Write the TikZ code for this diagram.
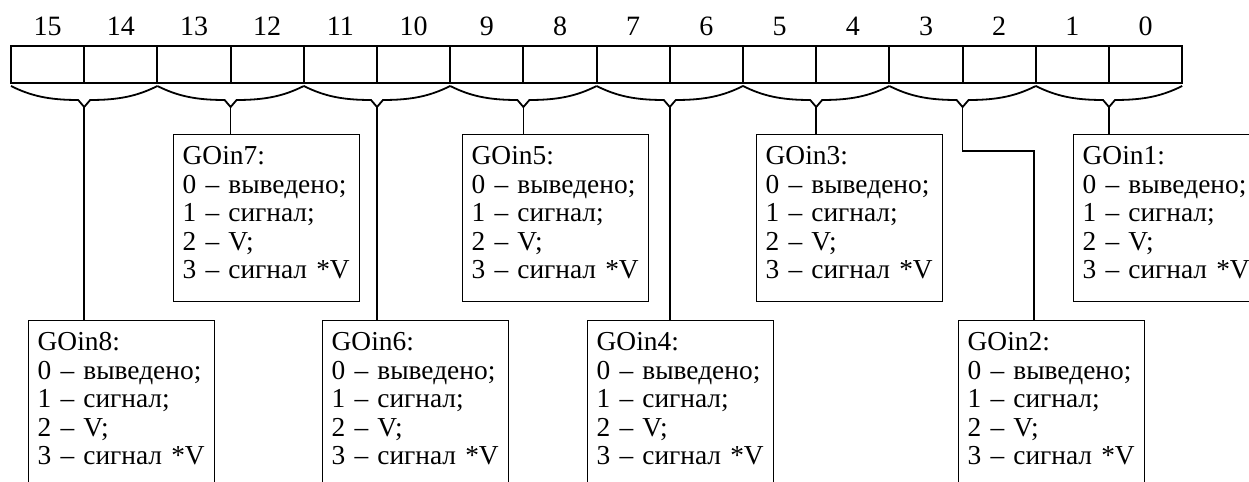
\documentclass[tikz,border=0pt]{standalone}
\usepackage{fontspec}
\setmainfont{Liberation Serif}
\usepackage{tikz}
\usetikzlibrary{calc}

\newcommand{\goin}[1]{\rule{0pt}{10pt}\mbox{GOin#1:}\\\mbox{0 – выведено;}\\\mbox{1 – сигнал;}\\\mbox{2 – V;}\\\mbox{3 – сигнал *V}\rule[-6.5pt]{0pt}{6.5pt}}

\begin{document}
\begin{tikzpicture}[x=0.5pt,y=-0.5pt,
  cell/.style={draw,line width=1pt,minimum width=36.6pt,minimum height=18.5pt,inner sep=0pt,outer sep=0pt},
  bitno/.style={anchor=base,inner sep=0pt,font=\fontsize{14}{17}\selectfont},
  fld/.style={draw,line width=0.7pt,anchor=north west,text width=84pt,align=left,
    inner xsep=4.5pt,inner ysep=5pt,font=\fontsize{13.7}{14.25}\selectfont},
  brace/.style={line width=0.9pt,line join=miter},
  wire/.style={line width=0.8pt}]
\useasboundingbox (0,0) rectangle (1249,482);
\clip (0,0) rectangle (1249,482);
% register cells and bit numbers
\foreach \b in {0,...,15}{
  \pgfmathsetmacro{\xc}{11+73.2*(15-\b)+36.6}
  \node[cell] (b\b) at (\xc,64.5) {};
  \node[bitno] (n\b) at (\xc,35) {\b};
}
% braces under each pair of bits
\foreach \p in {0,...,7}{
  \pgfmathsetmacro{\xl}{11+146.4*\p}
  \pgfmathsetmacro{\xm}{\xl+73.2}
  \pgfmathsetmacro{\xr}{\xl+146.4}
  \pgfmathtruncatemacro{\f}{8-\p}
  \draw[brace] (\xl,86) .. controls (\xl+20,96) and (\xm-35,100) .. (\xm-6,100)
    -- (\xm,107) -- (\xm+6,100) .. controls (\xm+35,100) and (\xr-20,96) .. (\xr,86);
  \coordinate (t\f) at (\xm,107);
}
% field boxes
\node[fld] (g7) at (173,134) {\goin{7}};
\node[fld] (g5) at (462,134) {\goin{5}};
\node[fld] (g3) at (756,134) {\goin{3}};
\node[fld] (g1) at (1073,134) {\goin{1}};
\node[fld] (g8) at (28,320) {\goin{8}};
\node[fld] (g6) at (322,320) {\goin{6}};
\node[fld] (g4) at (587,320) {\goin{4}};
\node[fld] (g2) at (958,320) {\goin{2}};
% leaders
\foreach \f in {1,3,4,5,6,7,8}
  \draw[wire] (t\f) -- (t\f |- g\f.north);
\coordinate (k2) at (1034,151);
\draw[wire] (t2) |- (k2) -- (k2 |- g2.north);
\end{tikzpicture}
\end{document}
